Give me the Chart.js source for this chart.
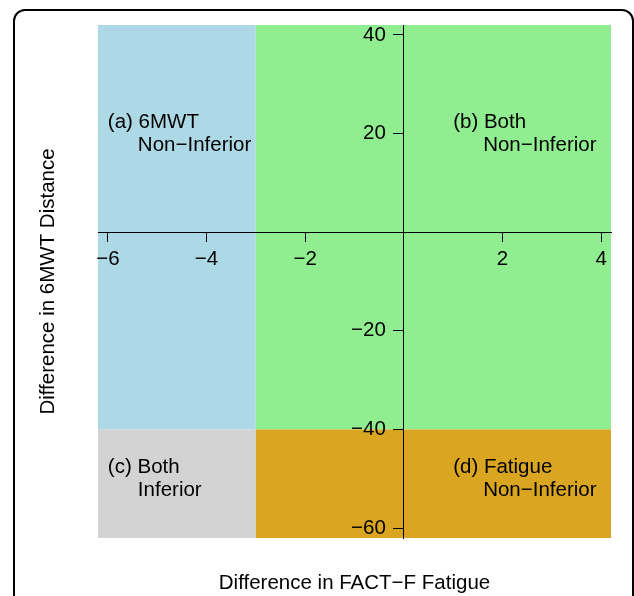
<!DOCTYPE html>
<html>
<head>
<meta charset="utf-8">
<script src="https://cdn.jsdelivr.net/npm/chart.js@4.4.1/dist/chart.umd.min.js"></script>
<style>
  html, body { margin: 0; padding: 0; background: #fff; }
  #wrap { position: relative; width: 634px; height: 596px; overflow: hidden; }
  #frame { position: absolute; left: 13px; top: 9px; width: 621px; height: 700px;
           border: 2px solid #000; border-radius: 12px; box-sizing: border-box; pointer-events: none; }
  canvas { position: absolute; left: 0; top: 0; }
</style>
</head>
<body>
<div id="wrap">
  <div id="frame"></div>
  <canvas id="c" width="634" height="596"></canvas>
</div>
<script>
// ---- data ----
const xTitle = 'Difference in FACT\u2212F Fatigue';
const yTitle = 'Difference in 6MWT Distance';
const xRange = [-6.2, 4.2];
const yRange = [-62, 42];
const xTicks = [-6, -4, -2, 2, 4];
const yTicks = [40, 20, -20, -40, -60];

// quadrant regions
const regionX0 = [-6.2, -3, -6.2, -3];
const regionX1 = [-3, 4.2, -3, 4.2];
const regionY0 = [-40, -40, -62, -62];
const regionY1 = [42, 42, -40, -40];
const regionColors = ['#ADD8E6', '#90EE90', '#D3D3D3', '#DAA520'];

// region labels
const labelLine1 = ['(a) 6MWT', '(b) Both', '(c) Both', '(d) Fatigue'];
const labelLine2 = ['Non\u2212Inferior', 'Non\u2212Inferior', 'Inferior', 'Non\u2212Inferior'];
const labelX = [-6, 1, -6, 1];
const labelY = [20, 20, -50, -50];

// ---- style ----
const FONT = '"Liberation Sans", Arial, Helvetica, sans-serif';
const FS = 20.5;
const Y_TICK_LEN = 10;
const Y_TICK_PAD = 8;
const fmt = v => String(v).replace('-', '\u2212');

const regionPlugin = {
  id: 'regions',
  beforeDraw(chart) {
    const {ctx, scales: {x, y}} = chart;
    // shift y tick labels left of the tick marks (value-positioned axis)
    const items = y.getLabelItems(chart.chartArea);
    if (!items._shifted) {
      items.forEach(it => { it.options.translation[0] -= (Y_TICK_LEN + Y_TICK_PAD); });
      items._shifted = true;
    }
    ctx.save();
    for (let i = 0; i < regionColors.length; i++) {
      const px0 = x.getPixelForValue(regionX0[i]);
      const px1 = x.getPixelForValue(regionX1[i]);
      const py0 = y.getPixelForValue(regionY0[i]);
      const py1 = y.getPixelForValue(regionY1[i]);
      ctx.fillStyle = regionColors[i];
      ctx.fillRect(px0, py1, px1 - px0, py0 - py1);
    }
    ctx.restore();
  },
  afterDatasetsDraw(chart) {
    const {ctx, scales: {x, y}} = chart;
    ctx.save();
    ctx.fillStyle = '#000';
    ctx.font = FS + 'px ' + FONT;
    ctx.textAlign = 'left';
    ctx.textBaseline = 'middle';
    for (let i = 0; i < labelLine1.length; i++) {
      const px = x.getPixelForValue(labelX[i]);
      const py = y.getPixelForValue(labelY[i]);
      ctx.fillText(labelLine1[i], px, py - 11.5);
      ctx.fillText(labelLine2[i], px + 30, py + 11.5);
    }
    ctx.restore();
  }
};

new Chart(document.getElementById('c'), {
  type: 'scatter',
  data: { datasets: [{ data: [] }] },
  options: {
    responsive: false,
    devicePixelRatio: 1,
    animation: false,
    layout: { padding: { left: 0, top: 25, right: 23, bottom: 0 } },
    scales: {
      x: {
        type: 'linear',
        position: { y: 0 },
        min: xRange[0], max: xRange[1],
        afterBuildTicks: s => { s.ticks = xTicks.map(v => ({ value: v })); },
        grid: { display: true, drawOnChartArea: false, drawTicks: true, tickLength: 9, color: '#000', lineWidth: 1 },
        border: { display: true, color: '#000', width: 1 },
        ticks: { color: '#000', padding: 6, autoSkip: false, maxRotation: 0,
                 font: { family: FONT, size: FS }, callback: v => fmt(v) }
      },
      y: {
        type: 'linear',
        position: { x: 0 },
        min: yRange[0], max: yRange[1],
        afterBuildTicks: s => { s.ticks = yTicks.map(v => ({ value: v })); },
        grid: { display: true, drawOnChartArea: false, drawTicks: true, tickLength: Y_TICK_LEN, color: '#000', lineWidth: 1 },
        border: { display: true, color: '#000', width: 1 },
        ticks: { color: '#000', padding: Y_TICK_PAD, autoSkip: false,
                 font: { family: FONT, size: FS }, callback: v => fmt(v) }
      }
    },
    plugins: {
      legend: { display: false },
      tooltip: { enabled: false },
      title: {
        display: true, text: xTitle, position: 'bottom', fullSize: false, color: '#000',
        font: { family: FONT, size: FS, weight: 'normal', lineHeight: 1.2 },
        padding: { top: 33.4, bottom: 0 }
      },
      subtitle: {
        display: true, text: yTitle, position: 'left', fullSize: false, color: '#000',
        font: { family: FONT, size: FS, weight: 'normal', lineHeight: 1.2 },
        padding: { top: 36, bottom: 37.4 }
      }
    }
  },
  plugins: [regionPlugin]
});
</script>
</body>
</html>
